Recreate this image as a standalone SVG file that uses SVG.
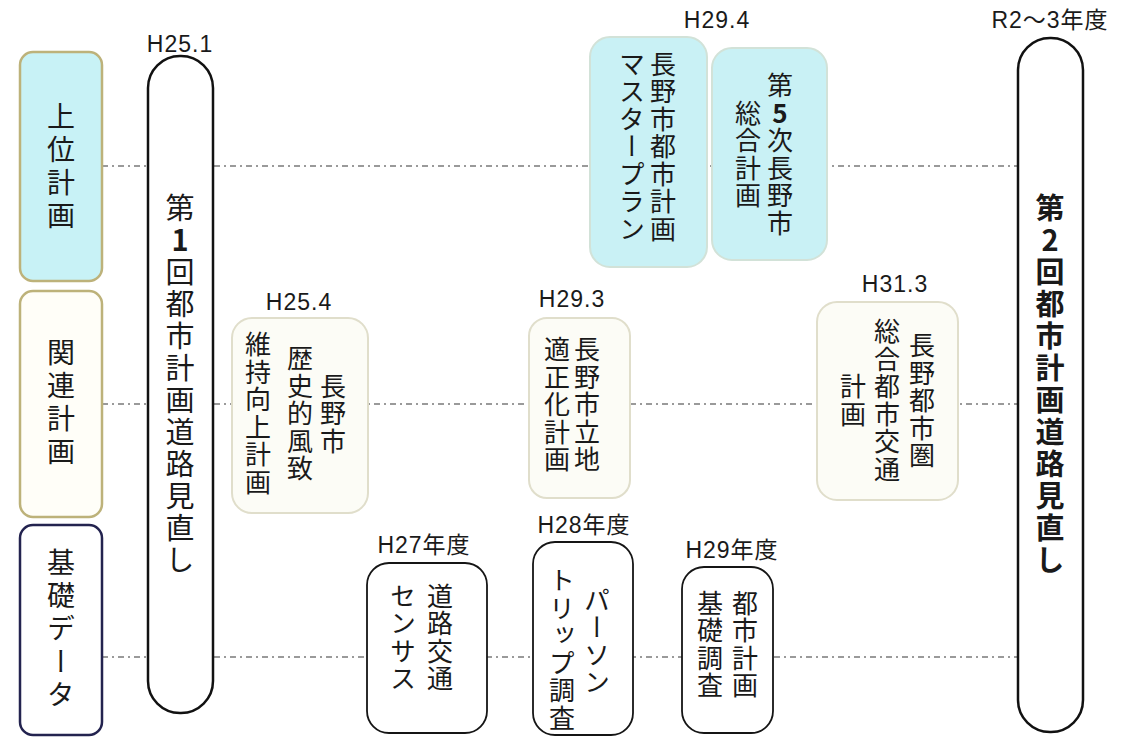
<svg xmlns="http://www.w3.org/2000/svg" width="1133" height="737" viewBox="0 0 1133 737">
<style>
.bg{fill:#ffffff}
.conn{stroke:#7a7a7a;stroke-width:1.6;stroke-dasharray:6 4 2 4;fill:none}
.cat1{fill:#c8f2f6;stroke:#bdb27a;stroke-width:2.5}
.cat2{fill:#fffef8;stroke:#bdb27a;stroke-width:2.5}
.cat3{fill:#ffffff;stroke:#23234f;stroke-width:2.5}
.pill{fill:#ffffff;stroke:#111111;stroke-width:2.5}
.top{fill:#c9f1f5;stroke:#d2e2d8;stroke-width:2}
.mid{fill:#fcfcf6;stroke:#e0decb;stroke-width:2}
.bot{fill:#ffffff;stroke:#151515;stroke-width:1.8}
.v{font-family:"Noto Sans CJK JP",sans-serif;writing-mode:vertical-rl;text-orientation:upright;text-anchor:middle;fill:#1a1a1a}
.vl{font-size:28px;letter-spacing:5px}
.vp{font-size:29px;letter-spacing:3px}
.vb{font-size:26px;letter-spacing:1.5px}
.lab{font-family:"Liberation Sans","Noto Sans CJK JP",sans-serif;font-size:23px;letter-spacing:1px;text-anchor:middle;fill:#1a1a1a}
.b{font-weight:bold}
</style>
<rect class="bg" x="0" y="0" width="1133" height="737"/>
<g id="connectors">
<line class="conn" x1="102" y1="166" x2="1018" y2="166"/>
<line class="conn" x1="102" y1="404" x2="1018" y2="404"/>
<line class="conn" x1="102" y1="657" x2="1018" y2="657"/>
</g>
<g id="cat-jouikeikaku">
<rect class="cat1" x="20" y="52" width="82" height="229" rx="13"/>
<text class="v vl" x="61" y="168">上位計画</text>
</g>
<g id="cat-kanrenkeikaku">
<rect class="cat2" x="20" y="291" width="82" height="226" rx="13"/>
<text class="v vl" x="61" y="404">関連計画</text>
</g>
<g id="cat-kisodata">
<rect class="cat3" x="20" y="525" width="82" height="210" rx="13"/>
<text class="v vl" x="61" y="631">基礎データ</text>
</g>
<g id="review1">
<text class="lab" x="180" y="52">H25.1</text>
<rect class="pill" x="148" y="56" width="65" height="657" rx="32"/>
<text class="v vp" x="180" y="385">第<tspan class="b">1</tspan>回都市計画道路見直し</text>
</g>
<g id="masterplan">
<text class="lab" x="717" y="28">H29.4</text>
<rect class="top" x="590" y="37" width="117" height="230" rx="20"/>
<text class="v vb" x="663" y="147">長野市都市計画</text>
<text class="v vb" x="632" y="147">マスタープラン</text>
</g>
<g id="sougoukeikaku">
<rect class="top" x="712" y="48" width="115" height="212" rx="20"/>
<text class="v vb" x="780" y="155">第<tspan class="b">5</tspan>次長野市</text>
<text class="v vb" x="748" y="155">総合計画</text>
</g>
<g id="rekishi">
<text class="lab" x="299" y="310">H25.4</text>
<rect class="mid" x="232" y="318" width="136" height="195" rx="20"/>
<text class="v vb" x="333" y="414">長野市</text>
<text class="v vb" x="300" y="414">歴史的風致</text>
<text class="v vb" x="258" y="414">維持向上計画</text>
</g>
<g id="rittekika">
<text class="lab" x="572" y="307">H29.3</text>
<rect class="mid" x="529" y="318" width="101" height="180" rx="18"/>
<text class="v vb" x="587" y="405">長野市立地</text>
<text class="v vb" x="557" y="405">適正化計画</text>
</g>
<g id="kotsukeikaku">
<text class="lab" x="895" y="292">H31.3</text>
<rect class="mid" x="817" y="302" width="141" height="198" rx="20"/>
<text class="v vb" x="922" y="401">長野都市圏</text>
<text class="v vb" x="887" y="401">総合都市交通</text>
<text class="v vb" x="853" y="401">計画</text>
</g>
<g id="census">
<text class="lab" x="424" y="553">H27年度</text>
<rect class="bot" x="367" y="563" width="120" height="170" rx="22"/>
<text class="v vb" x="440" y="638">道路交通</text>
<text class="v vb" x="403" y="638">センサス</text>
</g>
<g id="persontrip">
<text class="lab" x="584" y="533">H28年度</text>
<rect class="bot" x="533" y="542" width="100" height="193" rx="22"/>
<text class="v vb" x="597" y="642">パーソン</text>
<text class="v vb" x="562" y="650">トリップ調査</text>
</g>
<g id="kisochousa">
<text class="lab" x="732" y="558">H29年度</text>
<rect class="bot" x="682" y="567" width="91" height="166" rx="22"/>
<text class="v vb" x="745" y="645">都市計画</text>
<text class="v vb" x="710" y="645">基礎調査</text>
</g>
<g id="review2">
<text class="lab" x="1050" y="28">R2〜3年度</text>
<rect class="pill" x="1018" y="38" width="65" height="694" rx="32"/>
<text class="v vp b" x="1050" y="385">第2回都市計画道路見直し</text>
</g>
</svg>
